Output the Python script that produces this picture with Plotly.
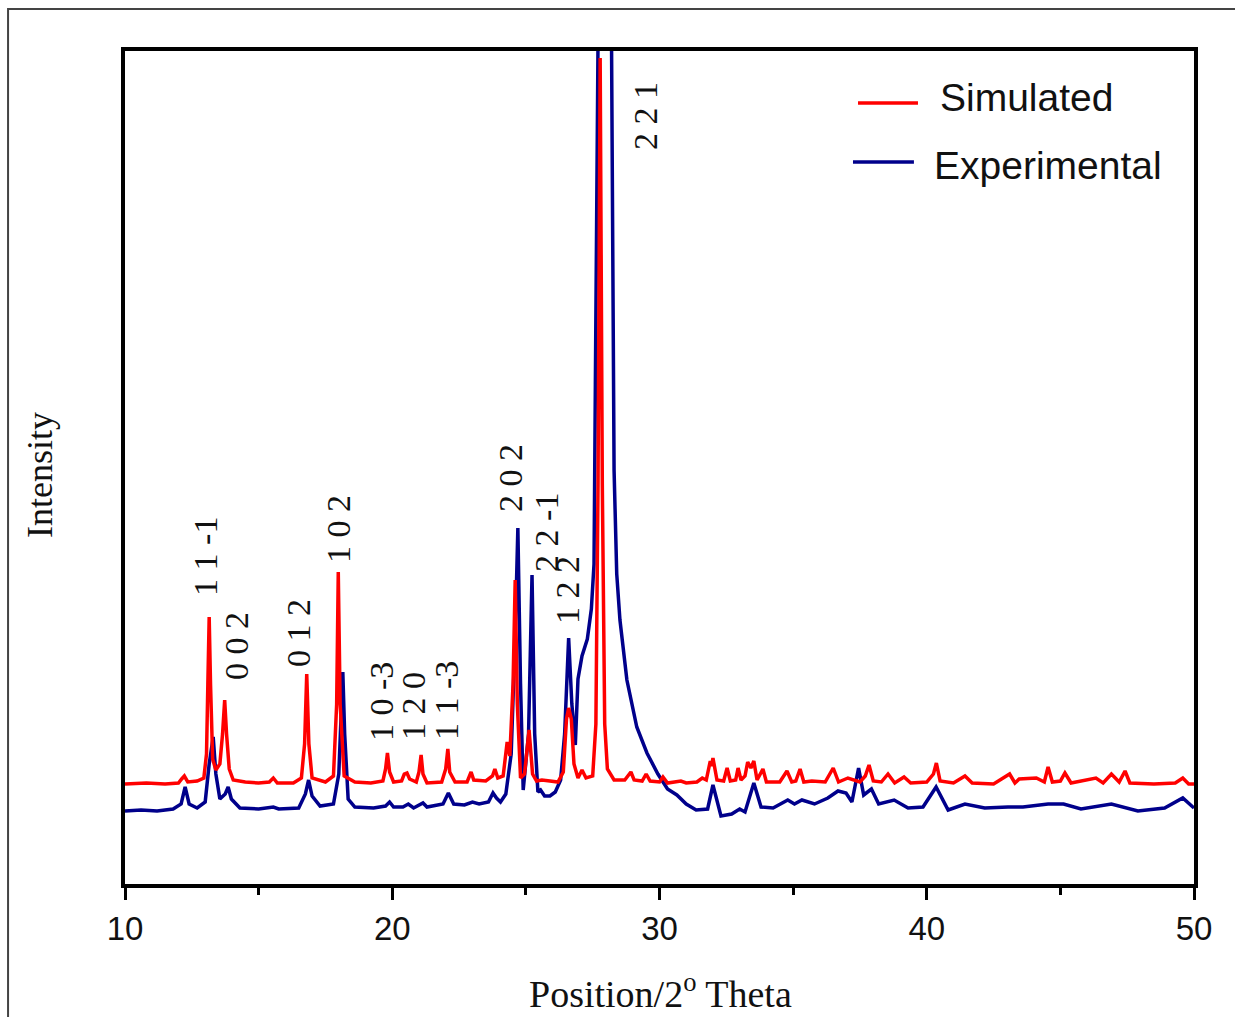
import plotly.graph_objects as go

# ---- Powder XRD patterns (2-theta in degrees, intensity in arbitrary units) ----
sim_two_theta = [
    10.0, 10.8, 11.5, 12.0, 12.12, 12.22, 12.35, 12.7, 12.95, 13.05,
    13.1, 13.15, 13.2, 13.28, 13.4, 13.55, 13.65, 13.73, 13.8, 13.9,
    14.05, 14.5, 15.0, 15.4, 15.55, 15.7, 16.3, 16.6, 16.72, 16.8,
    16.88, 17.0, 17.5, 17.8, 17.92, 17.98, 18.05, 18.2, 18.6, 19.2,
    19.65, 19.75, 19.82, 19.9, 20.05, 20.35, 20.45, 20.55, 20.65, 20.9,
    21.0, 21.08, 21.15, 21.3, 21.85, 22.0, 22.08, 22.15, 22.35, 22.8,
    22.95, 23.05, 23.5, 23.75, 23.84, 23.95, 24.15, 24.3, 24.4, 24.52,
    24.6, 24.68, 24.8, 24.95, 25.12, 25.25, 25.4, 25.6, 25.9, 26.2,
    26.4, 26.52, 26.6, 26.7, 26.8, 26.95, 27.1, 27.25, 27.5, 27.62,
    27.7, 27.78, 27.86, 27.95, 28.05, 28.3, 28.7, 28.93, 29.05, 29.35,
    29.5, 29.65, 30.0, 30.13, 30.3, 30.8, 31.0, 31.4, 31.6, 31.75,
    31.9, 31.95, 32.0, 32.15, 32.4, 32.53, 32.65, 32.85, 32.94, 33.05,
    33.2, 33.3, 33.42, 33.53, 33.65, 33.87, 34.0, 34.5, 34.77, 34.95,
    35.1, 35.26, 35.4, 35.7, 36.2, 36.5, 36.7, 37.05, 37.5, 37.7,
    37.84, 38.0, 38.3, 38.55, 38.8, 39.15, 39.4, 40.0, 40.25, 40.36,
    40.5, 41.0, 41.43, 41.7, 42.5, 43.1, 43.3, 43.46, 44.1, 44.4,
    44.54, 44.7, 45.0, 45.17, 45.4, 46.33, 46.6, 46.91, 47.2, 47.42,
    47.6, 48.5, 49.3, 49.58, 49.8, 50.0,
]
sim_intensity = [
    100, 101, 100, 101, 105, 108, 102, 103, 106, 130,
    200, 267, 200, 125, 114, 120, 150, 184, 150, 115,
    104, 102, 101, 102, 106, 101, 101, 106, 140, 210,
    140, 106, 102, 108, 180, 312, 180, 108, 102, 101,
    103, 115, 131, 112, 102, 103, 110, 111, 105, 102,
    112, 129, 110, 101, 102, 115, 135, 112, 102, 102,
    112, 104, 103, 108, 115, 106, 108, 142, 128, 200,
    304, 180, 106, 110, 154, 110, 103, 104, 103, 102,
    112, 165, 176, 165, 120, 106, 114, 106, 108, 160,
    400, 826, 400, 160, 115, 104, 104, 112, 104, 103,
    110, 103, 102, 107, 101, 103, 101, 102, 106, 104,
    123, 118, 126, 104, 103, 116, 103, 104, 116, 104,
    108, 122, 116, 123, 104, 115, 102, 102, 113, 102,
    103, 115, 102, 103, 102, 116, 102, 106, 102, 108,
    119, 103, 102, 110, 101, 107, 101, 102, 110, 121,
    103, 101, 108, 101, 100, 110, 101, 105, 106, 102,
    117, 102, 103, 111, 101, 106, 101, 110, 102, 113,
    101, 100, 101, 106, 100, 100,
]

exp_two_theta = [
    10.0, 10.6, 11.2, 11.8, 12.1, 12.25, 12.4, 12.7, 13.0, 13.15,
    13.3, 13.4, 13.55, 13.75, 13.86, 13.98, 14.3, 15.0, 15.55, 15.75,
    16.5, 16.75, 16.87, 17.0, 17.3, 17.8, 18.0, 18.1, 18.15, 18.22,
    18.35, 18.6, 19.3, 19.75, 19.9, 20.05, 20.4, 20.6, 20.8, 21.15,
    21.3, 21.9, 22.1, 22.3, 22.7, 23.0, 23.25, 23.6, 23.77, 23.9,
    24.05, 24.25, 24.45, 24.6, 24.7, 24.8, 24.9, 25.1, 25.23, 25.33,
    25.45, 25.55, 25.7, 25.9, 26.1, 26.3, 26.45, 26.6, 26.72, 26.85,
    26.95, 27.1, 27.3, 27.45, 27.55, 27.6, 27.66, 27.92, 28.17, 28.24,
    28.3, 28.4, 28.52, 28.78, 29.15, 29.53, 29.94, 30.3, 30.65, 31.0,
    31.37, 31.8, 32.0, 32.3, 32.7, 33.0, 33.2, 33.53, 33.8, 34.25,
    34.8, 35.05, 35.33, 35.8, 36.3, 36.68, 36.98, 37.2, 37.45, 37.64,
    37.93, 38.2, 38.78, 39.3, 39.86, 40.35, 40.8, 41.43, 42.17, 43.04,
    43.6, 44.54, 45.12, 45.77, 46.91, 47.9, 48.9, 49.58, 50.0,
]
exp_intensity = [
    73, 74, 73, 75, 80, 97, 80, 76, 82, 120,
    147, 110, 85, 90, 97, 85, 76, 75, 77, 75,
    76, 90, 104, 88, 78, 80, 110, 190, 212, 150,
    85, 77, 76, 78, 82, 77, 77, 80, 76, 81,
    77, 80, 91, 80, 79, 82, 80, 82, 91, 86,
    82, 90, 130, 250, 356, 200, 94, 150, 309, 150,
    92, 94, 88, 88, 92, 104, 150, 246, 180, 139,
    205, 228, 245, 275, 320, 500, 1000, 1600, 1000, 600,
    414, 310, 264, 204, 157, 131, 110, 95, 89, 80,
    74, 75, 99, 68, 70, 75, 72, 101, 77, 76,
    84, 80, 84, 80, 86, 93, 91, 82, 116, 89,
    95, 80, 84, 76, 77, 97, 74, 80, 76, 77,
    77, 80, 80, 75, 80, 73, 76, 86, 76,
]

# Miller-index labels of the reflections and where each label sits
hkl_labels = ["1 1 -1", "0 0 2", "0 1 2", "1 0 2", "1 0 -3", "1 2 0",
              "1 1 -3", "2 0 2", "2 2 -1", "1 2 2", "2 2 1"]
hkl_label_x = [12.99, 14.15, 16.47, 17.97, 19.58, 20.78,
               22.01, 24.41, 25.75, 26.54, 29.46]
hkl_label_y = [328, 238, 251, 355, 182, 178,
               184, 406, 352, 294, 768]

series_names = ["Simulated", "Experimental"]
series_colors = ["#ff0000", "#00008b"]

SANS = "Liberation Sans, Arial, sans-serif"
SERIF = "Liberation Serif, Times New Roman, serif"

fig = go.Figure()
# experimental pattern underneath, simulated drawn on top
fig.add_trace(go.Scatter(x=exp_two_theta, y=exp_intensity, mode="lines",
                         name=series_names[1], showlegend=False,
                         line=dict(color=series_colors[1], width=3.5)))
fig.add_trace(go.Scatter(x=sim_two_theta, y=sim_intensity, mode="lines",
                         name=series_names[0], showlegend=False,
                         line=dict(color=series_colors[0], width=3.5)))

annotations = []
for txt, hx, hy in zip(hkl_labels, hkl_label_x, hkl_label_y):
    annotations.append(dict(x=hx, y=hy, xref="x", yref="y", text=txt,
                            textangle=-90, showarrow=False,
                            xanchor="center", yanchor="middle",
                            font=dict(family=SERIF, size=34, color="#111")))

# axis titles
annotations.append(dict(x=0.5005, y=-0.129, xref="paper", yref="paper",
                        text="Position/2<sup>o</sup> Theta", showarrow=False,
                        xanchor="center", yanchor="middle",
                        font=dict(family=SERIF, size=38, color="#111")))
annotations.append(dict(x=-0.0795, y=0.491, xref="paper", yref="paper",
                        text="Intensity", textangle=-90, showarrow=False,
                        xanchor="center", yanchor="middle",
                        font=dict(family=SERIF, size=36, color="#111")))

# legend: line samples + labels
legend_line_x = [(0.6857, 0.7418), (0.681, 0.738)]
legend_y = [0.9376, 0.8667]
legend_text_x = [0.7605, 0.7545]
legend_text_dy = [0.006, -0.004]
shapes = []
for name, color, (lx0, lx1), ly, tx, dy in zip(series_names, series_colors,
                                               legend_line_x, legend_y,
                                               legend_text_x, legend_text_dy):
    shapes.append(dict(type="line", xref="paper", yref="paper",
                       x0=lx0, x1=lx1, y0=ly, y1=ly,
                       line=dict(color=color, width=3.5)))
    annotations.append(dict(x=tx, y=ly + dy, xref="paper", yref="paper",
                            text=name, showarrow=False,
                            xanchor="left", yanchor="middle",
                            font=dict(family=SANS, size=39, color="#111")))

# outer figure frame
shapes.append(dict(type="rect", xref="paper", yref="paper",
                   x0=-0.1094, x1=1.3, y0=-0.4, y1=1.0504,
                   line=dict(color="#444", width=2), layer="below"))

fig.update_layout(
    width=1235, height=1017,
    margin=dict(l=125, r=41, t=51, b=133),
    paper_bgcolor="white", plot_bgcolor="white",
    showlegend=False,
    annotations=annotations,
    shapes=shapes,
    xaxis=dict(range=[10, 50], tick0=10, dtick=10,
               showline=True, linecolor="black", linewidth=4, mirror=True,
               ticks="outside", ticklen=12, tickwidth=3, tickcolor="black",
               showgrid=False, zeroline=False,
               tickfont=dict(family=SANS, size=33, color="#111"),
               minor=dict(ticks="outside", dtick=5, tick0=10, ticklen=7,
                          tickwidth=3, tickcolor="black", showgrid=False)),
    yaxis=dict(range=[0, 833], showline=True, linecolor="black", linewidth=4,
               mirror=True, showticklabels=False, ticks="",
               showgrid=False, zeroline=False),
)

fig.write_html("out.html")
